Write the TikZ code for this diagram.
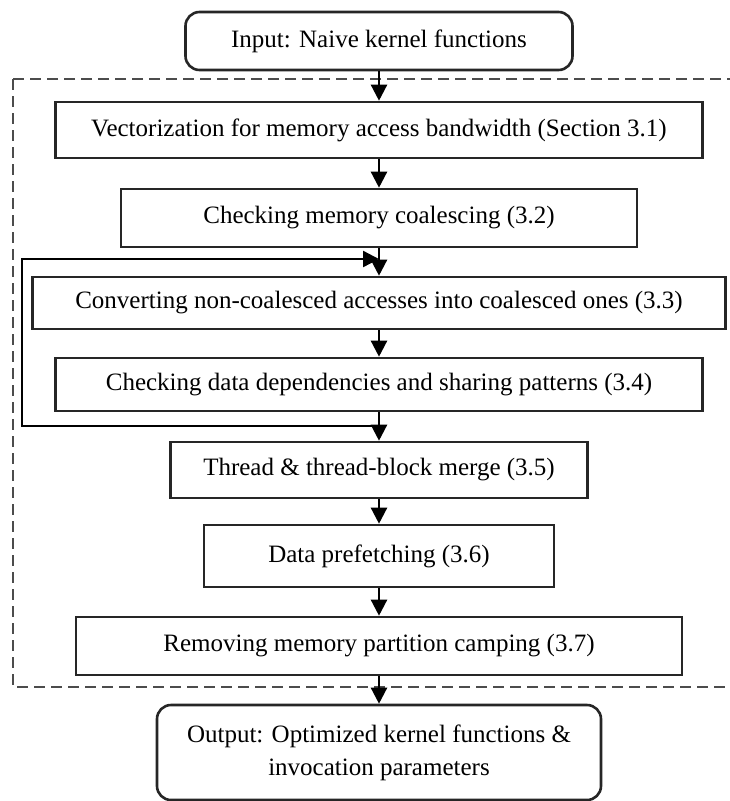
\documentclass[tikz,border=0pt]{standalone}
\usepackage{fontspec}
\setmainfont{Liberation Serif}
\usetikzlibrary{arrows.meta}
\begin{document}
\begin{tikzpicture}[x=1pt,y=-1pt,
  every node/.style={font=\fontsize{25}{33}\selectfont, inner sep=0pt, align=center},
  stage/.style={draw=black!85, line width=2.6pt, fill=white},
  term/.style={stage, rounded corners=14pt},
  flow/.style={draw=black, line width=2.4pt, -{Triangle[width=16pt,length=16pt]}},
  frame/.style={draw=black!70, line width=2.6pt, dash pattern=on 11pt off 6pt}]
\useasboundingbox (0,0) rectangle (730,801);

% dashed region enclosing the optimisation passes
\draw[frame] (13,79) rectangle (745,687);

\node[term, minimum width=387pt, minimum height=58pt] (in) at (379,41) {Input: Naive kernel functions};
\node[stage, minimum width=647pt, minimum height=56pt] (s1) at (379,130) {Vectorization for memory access bandwidth (Section 3.1)};
\node[stage, minimum width=516pt, minimum height=58pt] (s2) at (379,218) {Checking memory coalescing (3.2)};
\node[stage, minimum width=693pt, minimum height=52pt] (s3) at (379,303) {Converting non-coalesced accesses into coalesced ones (3.3)};
\node[stage, minimum width=647pt, minimum height=53pt] (s4) at (379,384.5) {Checking data dependencies and sharing patterns (3.4)};
\node[stage, minimum width=417pt, minimum height=56pt] (s5) at (379,470) {Thread \& thread-block merge (3.5)};
\node[stage, minimum width=350pt, minimum height=62pt] (s6) at (379,556) {Data prefetching (3.6)};
\node[stage, minimum width=606pt, minimum height=58pt] (s7) at (379,646) {Removing memory partition camping (3.7)};
\node[term, minimum width=444pt, minimum height=95pt] (out) at (379,752.5) {Output: Optimized kernel functions \&\\invocation parameters};

\draw[flow] (in) -- (s1);
\draw[flow] (s1) -- (s2);
\draw[flow] (s2) -- (s3);
\draw[flow] (s3) -- (s4);
\draw[flow] (s4) -- (s5);
\draw[flow] (s5) -- (s6);
\draw[flow] (s6) -- (s7);
\draw[flow] (s7) -- (out);

% feedback loop from after 3.4 back to before 3.3
\coordinate (lb) at (379,426);
\coordinate (lt) at (379,259);
\draw[flow] (lb) -- (22,426) |- (lt);
\end{tikzpicture}
\end{document}
